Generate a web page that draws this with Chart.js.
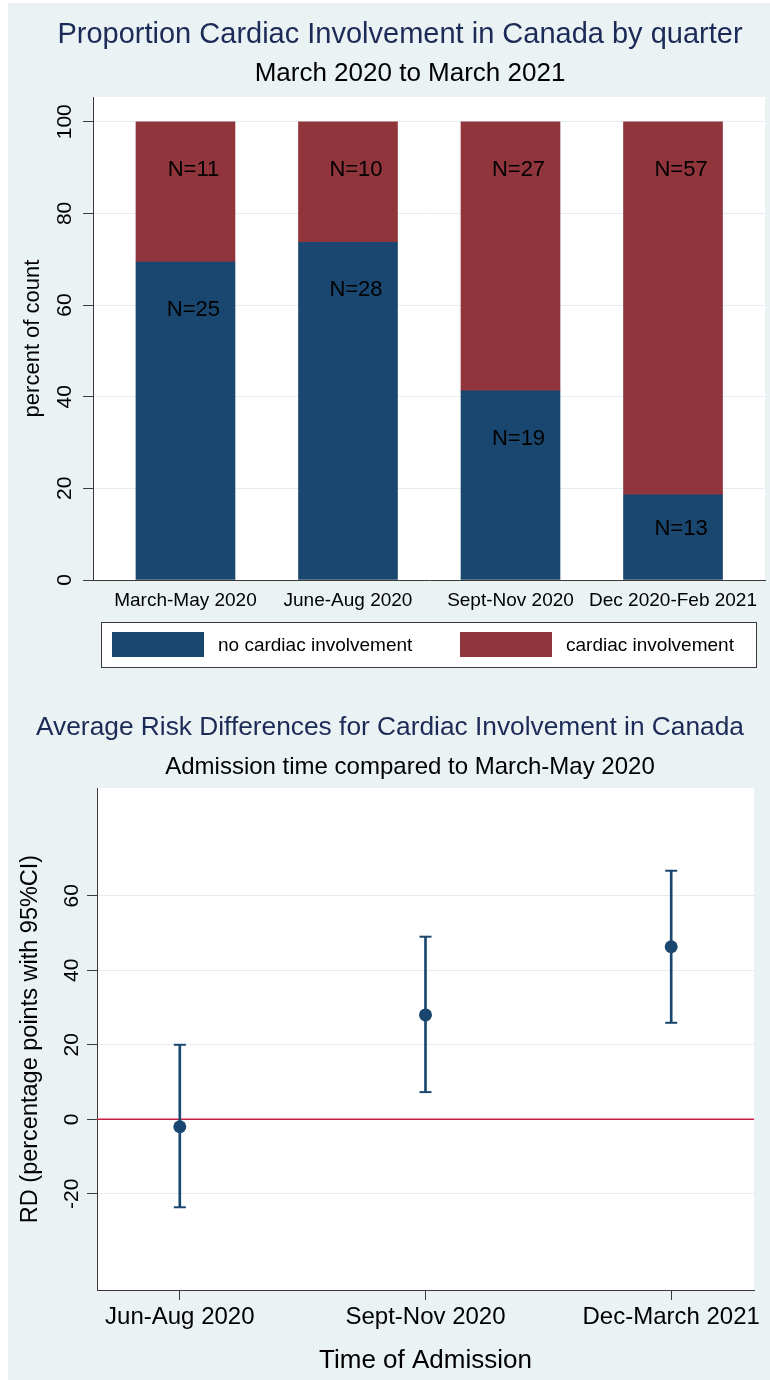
<!DOCTYPE html>
<html>
<head>
<meta charset="utf-8">
<script src="https://cdn.jsdelivr.net/npm/chart.js@4.4.1/dist/chart.umd.min.js"></script>
<style>
  body { margin: 0; background: #fff; }
  #page { position: relative; width: 770px; height: 1380px; overflow: hidden; }
  #panel { position: absolute; left: 8px; top: 3px; right: 0; bottom: 0; background: #eaf2f3; }
  canvas { position: absolute; left: 0; }
</style>
</head>
<body>
<div id="page">
  <div id="panel"></div>
  <canvas id="barChart" width="770" height="690" style="top:0"></canvas>
  <canvas id="rdChart" width="770" height="690" style="top:690px"></canvas>
</div>
<script>
// Dados - gráfico de barras (proporção por trimestre)
const quarters = ['March-May 2020', 'June-Aug 2020', 'Sept-Nov 2020', 'Dec 2020-Feb 2021'];
const pctNoCardiac = [69.4, 73.7, 41.3, 18.6];
const pctCardiac = [30.6, 26.3, 58.7, 81.4];
const nNoCardiac = [25, 28, 19, 13];
const nCardiac = [11, 10, 27, 57];
const pctTicks = [0, 20, 40, 60, 80, 100];

// Dados - diferenças de risco (IC 95%)
const periods = ['Jun-Aug 2020', 'Sept-Nov 2020', 'Dec-March 2021'];
const rdEstimate = [-2.0, 28.0, 46.3];
const rdLower = [-23.6, 7.3, 25.9];
const rdUpper = [20.0, 49.0, 66.7];
const rdTicks = [-20, 0, 20, 40, 60];

// Cores
const navy = '#1a476f';
const maroon = '#90353b';
const titleColor = '#1c2a57';
const gridColor = '#e3ecef';
const axisColor = '#3a3a3a';
const zeroColor = '#c81e44';

Chart.defaults.font.family = "'Liberation Sans', Arial, Helvetica, sans-serif";
Chart.defaults.color = '#000';

// fundo branco da área do gráfico
const plotBg = {
  id: 'plotBg',
  beforeDraw(chart) {
    const a = chart.chartArea, c = chart.ctx;
    c.save();
    c.fillStyle = '#fff';
    c.fillRect(a.left, a.top, a.right - a.left, a.bottom - a.top);
    c.restore();
  }
};

// títulos em posição fixa
const titles = {
  id: 'titles',
  afterDraw(chart, args, opts) {
    const c = chart.ctx;
    c.save();
    c.textAlign = 'center';
    c.textBaseline = 'middle';
    (opts.lines || []).forEach(l => {
      c.font = l.size + "px 'Liberation Sans', Arial, sans-serif";
      c.fillStyle = l.color;
      c.fillText(l.text, l.x, l.y);
    });
    c.restore();
  }
};

// rótulos N= dentro das barras
const barLabels = {
  id: 'barLabels',
  afterDatasetsDraw(chart) {
    const c = chart.ctx;
    c.save();
    c.font = "22px 'Liberation Sans', Arial, sans-serif";
    c.fillStyle = '#000';
    c.textAlign = 'center';
    c.textBaseline = 'middle';
    chart.data.datasets.forEach((ds, di) => {
      chart.getDatasetMeta(di).data.forEach((bar, i) => {
        const h = bar.base - bar.y;
        c.fillText('N=' + ds.counts[i], bar.x + 8, bar.y + Math.min(48, h * 0.4));
      });
    });
    c.restore();
  }
};

// legenda com caixa (estilo Stata)
const legendBox = {
  id: 'legendBox',
  afterDraw(chart) {
    const c = chart.ctx;
    c.save();
    c.fillStyle = '#fff';
    c.strokeStyle = axisColor;
    c.lineWidth = 1;
    c.fillRect(101.5, 622.5, 655, 45);
    c.strokeRect(101.5, 622.5, 655, 45);
    c.font = "19px 'Liberation Sans', Arial, sans-serif";
    c.textBaseline = 'middle';
    const xs = [112, 460];
    chart.data.datasets.forEach((ds, i) => {
      c.fillStyle = ds.backgroundColor;
      c.fillRect(xs[i], 632, 92, 25);
      c.fillStyle = '#000';
      c.fillText(ds.label, xs[i] + 106, 646);
    });
    c.restore();
  }
};

// linha de referência em zero
const zeroLine = {
  id: 'zeroLine',
  beforeDatasetsDraw(chart) {
    const a = chart.chartArea, c = chart.ctx;
    const y = chart.scales.y.getPixelForValue(0);
    c.save();
    c.strokeStyle = zeroColor;
    c.lineWidth = 1.6;
    c.beginPath();
    c.moveTo(a.left, y);
    c.lineTo(a.right, y);
    c.stroke();
    c.restore();
  }
};

// Gráfico 1: barras empilhadas
const barChart = new Chart(document.getElementById('barChart'), {
  type: 'bar',
  data: {
    datasets: [{
      label: 'no cardiac involvement',
      data: pctNoCardiac.map((v, i) => ({ x: i + 1, y: v })),
      counts: nNoCardiac,
      backgroundColor: navy,
      barThickness: 99
    }, {
      label: 'cardiac involvement',
      data: pctCardiac.map((v, i) => ({ x: i + 1, y: v })),
      counts: nCardiac,
      backgroundColor: maroon,
      barThickness: 99
    }]
  },
  options: {
    responsive: false,
    animation: false,
    layout: { padding: { top: 97, right: 5, left: 0, bottom: 0 } },
    plugins: {
      legend: { display: false },
      tooltip: { enabled: false },
      titles: {
        lines: [
          { text: 'Proportion Cardiac Involvement in Canada by quarter', x: 400, y: 35, size: 29, color: titleColor },
          { text: 'March 2020 to March 2021', x: 410, y: 74, size: 26, color: '#000' }
        ]
      }
    },
    scales: {
      x: {
        type: 'linear',
        stacked: true,
        offset: false,
        min: 0.431,
        max: 4.566,
        afterBuildTicks: s => { s.ticks = quarters.map((q, i) => ({ value: i + 1 })); },
        afterFit: s => { s.height = 110; },
        grid: { display: false, offset: false },
        border: { color: axisColor },
        ticks: { callback: (v, i) => quarters[i], font: { size: 19 }, padding: 1, maxRotation: 0, autoSkip: false }
      },
      y: {
        stacked: true,
        min: 0,
        max: 105.4,
        afterBuildTicks: s => { s.ticks = pctTicks.map(v => ({ value: v })); },
        afterFit: s => { s.width = 93; },
        grid: { color: gridColor, tickLength: 10, tickColor: axisColor },
        border: { color: axisColor },
        ticks: { minRotation: 90, maxRotation: 90, crossAlign: 'center', padding: 0, font: { size: 21 } },
        title: { display: true, text: 'percent of count', font: { size: 22 }, padding: { top: 20, bottom: 0 } }
      }
    }
  },
  plugins: [plotBg, barLabels, legendBox, titles]
});

// Gráfico 2: diferenças de risco com IC 95%
const rdChart = new Chart(document.getElementById('rdChart'), {
  type: 'scatter',
  data: {
    datasets: [{
      label: 'RD',
      data: rdEstimate.map((v, i) => ({ x: i + 1, y: v })),
      backgroundColor: navy,
      borderWidth: 0,
      pointRadius: 6.5
    }, {
      label: 'caps',
      data: rdLower.map((v, i) => ({ x: i + 1, y: v })).concat(rdUpper.map((v, i) => ({ x: i + 1, y: v }))),
      pointStyle: 'line',
      pointRadius: 6,
      borderWidth: 2,
      borderColor: navy
    }, {
      type: 'bar',
      label: '95% CI',
      data: rdLower.map((v, i) => ({ x: i + 1, y: [v, rdUpper[i]] })),
      backgroundColor: navy,
      barThickness: 2
    }]
  },
  options: {
    responsive: false,
    animation: false,
    layout: { padding: { top: 98, right: 16, left: 0, bottom: 0 } },
    plugins: {
      legend: { display: false },
      tooltip: { enabled: false },
      titles: {
        lines: [
          { text: 'Average Risk Differences for Cardiac Involvement in Canada', x: 390, y: 38, size: 26.3, color: titleColor },
          { text: 'Admission time compared to March-May 2020', x: 410, y: 77, size: 24, color: '#000' }
        ]
      }
    },
    scales: {
      x: {
        type: 'linear',
        offset: false,
        min: 0.663,
        max: 3.337,
        afterBuildTicks: s => { s.ticks = periods.map((p, i) => ({ value: i + 1 })); },
        afterFit: s => { s.height = 90; },
        grid: { drawOnChartArea: false, offset: false, tickLength: 10, tickColor: axisColor },
        border: { color: axisColor },
        ticks: { callback: (v, i) => periods[i], font: { size: 24 }, padding: 3, maxRotation: 0, autoSkip: false },
        title: { display: true, text: 'Time of Admission', font: { size: 26 }, padding: { top: 0, bottom: 4 } }
      },
      y: {
        min: -45.8,
        max: 88.9,
        afterBuildTicks: s => { s.ticks = rdTicks.map(v => ({ value: v })); },
        afterFit: s => { s.width = 97; },
        grid: { color: gridColor, tickLength: 10, tickColor: axisColor },
        border: { color: axisColor },
        ticks: { minRotation: 90, maxRotation: 90, crossAlign: 'center', padding: 0, font: { size: 21 } },
        title: { display: true, text: 'RD (percentage points with 95%CI)', font: { size: 23.5 }, padding: { top: 16, bottom: 0 } }
      }
    }
  },
  plugins: [plotBg, zeroLine, titles]
});
</script>
</body>
</html>
